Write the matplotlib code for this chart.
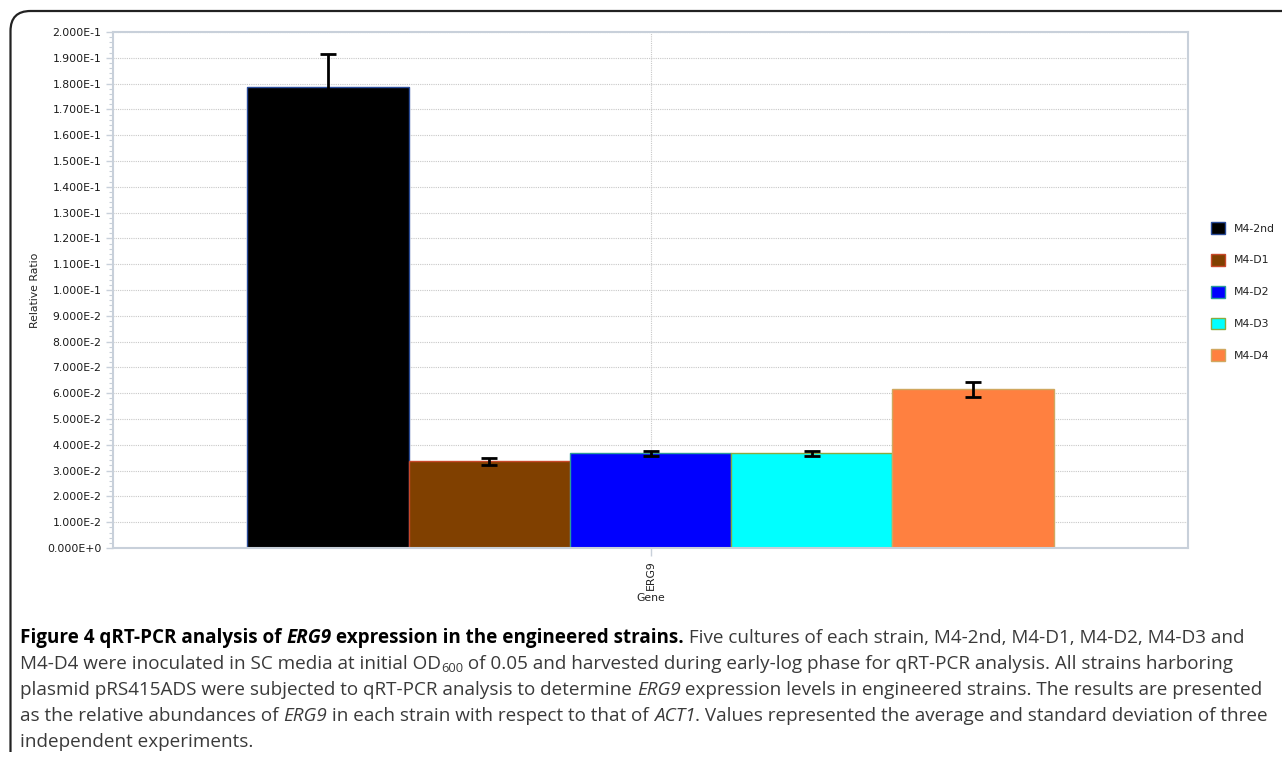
import matplotlib
matplotlib.use("Agg")
import matplotlib.pyplot as plt
from matplotlib.ticker import FuncFormatter, MultipleLocator
from matplotlib.path import Path
from matplotlib.patches import PathPatch
from matplotlib import font_manager as fm
import numpy as np

strains = ["M4-2nd", "M4-D1", "M4-D2", "M4-D3", "M4-D4"]
gene = ["ERG9"]
values = [0.1785, 0.0336, 0.0367, 0.0367, 0.0615]
errors = [0.0130, 0.0014, 0.0010, 0.0010, 0.0029]
colors = ["#000000", "#804000", "#0000ff", "#00ffff", "#ff8040"]
edges = ["#2a4c9a", "#c8482a", "#2a9a9a", "#8aaa40", "#d0a860"]

W, H = 1282, 757
fig = plt.figure(figsize=(W / 100, H / 100), dpi=100)
ax = fig.add_axes([113 / W, 1 - 548 / H, (1188 - 113) / W, (548 - 32) / H])

n = len(strains)
bw = 0.75 / n
xs = [(i - (n - 1) / 2) * bw for i in range(n)]
for x, v, e, c, ec, lab in zip(xs, values, errors, colors, edges, strains):
    ax.bar(x, v, width=bw, color=c, edgecolor=ec, linewidth=1.0, label=lab, zorder=2)
    ax.errorbar(x, v, yerr=e, fmt="none", ecolor="#000000", elinewidth=2,
                capsize=5.5, capthick=2, zorder=3)

ax.set_xlim(-0.5, 0.5)
ax.set_ylim(0, 0.2)
ax.yaxis.set_major_locator(MultipleLocator(0.01))
ax.yaxis.set_minor_locator(MultipleLocator(0.002))


def sci(v, pos):
    if abs(v) < 1e-12:
        return "0.000E+0"
    e = int(np.floor(np.log10(abs(v)) + 1e-9))
    m = v / 10 ** e
    return f"{m:.3f}E{e}" if e < 0 else f"{m:.3f}E+{e}"


ax.yaxis.set_major_formatter(FuncFormatter(sci))
ax.set_xticks([0])
ax.set_xticklabels(gene, rotation=90, fontsize=7.8, color="#222222")
ax.tick_params(axis="y", which="major", labelsize=7.8, labelcolor="#1a1a1a",
               color="#c8d0da", length=5, width=1)
ax.tick_params(axis="y", which="minor", color="#c8d0da", length=3, width=0.8)
ax.tick_params(axis="x", color="#c8d0da", length=6, width=1, pad=3)
ax.grid(axis="y", which="major", linestyle=(0, (1, 1)), color="#c8c8c8", linewidth=0.8, zorder=0)
ax.grid(axis="x", which="major", linestyle=(0, (1, 1)), color="#c8c8c8", linewidth=0.8, zorder=0)
ax.set_axisbelow(True)
for s in ax.spines.values():
    s.set_color("#c8d0da")
    s.set_linewidth(1.5)

ax.set_ylabel("Relative Ratio", fontsize=7.8, color="#222222")
ax.set_xlabel("Gene", fontsize=7.8, color="#222222", labelpad=2)
ax.yaxis.set_label_coords(-0.068, 0.5)

leg = ax.legend(loc="upper left", bbox_to_anchor=(1.017, 0.64), frameon=False,
                fontsize=7.8, handlelength=1.3, handleheight=1.3,
                labelspacing=1.85, handletextpad=0.85, borderaxespad=0)
for t in leg.get_texts():
    t.set_color("#222222")

# frame around the figure
r = 20
x0, y0 = 10.5, 11
verts = [(x0, H - 757 + 5), (x0, H - y0 - r), (x0, H - y0), (x0 + r, H - y0), (W, H - y0)]
codes = [Path.MOVETO, Path.LINETO, Path.CURVE3, Path.CURVE3, Path.LINETO]
verts = [(vx / W, vy / H) for vx, vy in verts]
fig.add_artist(PathPatch(Path(verts, codes), fill=False, edgecolor="#222222",
                         linewidth=1.6, transform=fig.transFigure))

# caption
names = {f.name for f in fm.fontManager.ttflist}
cap_font = "Open Sans" if "Open Sans" in names else "DejaVu Sans"
fs = 13.6
cap_color = "#3a3a3a"
lines = [
    [("Figure 4 qRT-PCR analysis of ", "bold", "normal", 0), ("ERG9", "bold", "italic", 0),
     (" expression in the engineered strains.", "bold", "normal", 0),
     (" Five cultures of each strain, M4-2nd, M4-D1, M4-D2, M4-D3 and", "normal", "normal", 0)],
    [("M4-D4 were inoculated in SC media at initial OD", "normal", "normal", 0), ("600", "normal", "normal", 1),
     (" of 0.05 and harvested during early-log phase for qRT-PCR analysis. All strains harboring", "normal", "normal", 0)],
    [("plasmid pRS415ADS were subjected to qRT-PCR analysis to determine ", "normal", "normal", 0),
     ("ERG9", "normal", "italic", 0), (" expression levels in engineered strains. The results are presented", "normal", "normal", 0)],
    [("as the relative abundances of ", "normal", "normal", 0), ("ERG9", "normal", "italic", 0),
     (" in each strain with respect to that of ", "normal", "normal", 0), ("ACT1", "normal", "italic", 0),
     (". Values represented the average and standard deviation of three", "normal", "normal", 0)],
    [("independent experiments.", "normal", "normal", 0)],
]
line_y = [638, 664, 690, 716, 742]
fig.canvas.draw()
renderer = fig.canvas.get_renderer()

for runs, ly in zip(lines, line_y):
    xpix = 20
    for txt, wt, st, sub in runs:
        size = fs * 0.68 if sub else fs
        ypix = ly + (5 if sub else 0)
        color = "#000000" if wt == "bold" else cap_color
        t = fig.text(xpix / W, 1 - ypix / H, txt, fontsize=size, fontweight=wt, fontstyle=st,
                     family=cap_font, color=color, va="center", ha="left")
        xpix += t.get_window_extent(renderer=renderer).width

fig.savefig("out.png", dpi=100)
